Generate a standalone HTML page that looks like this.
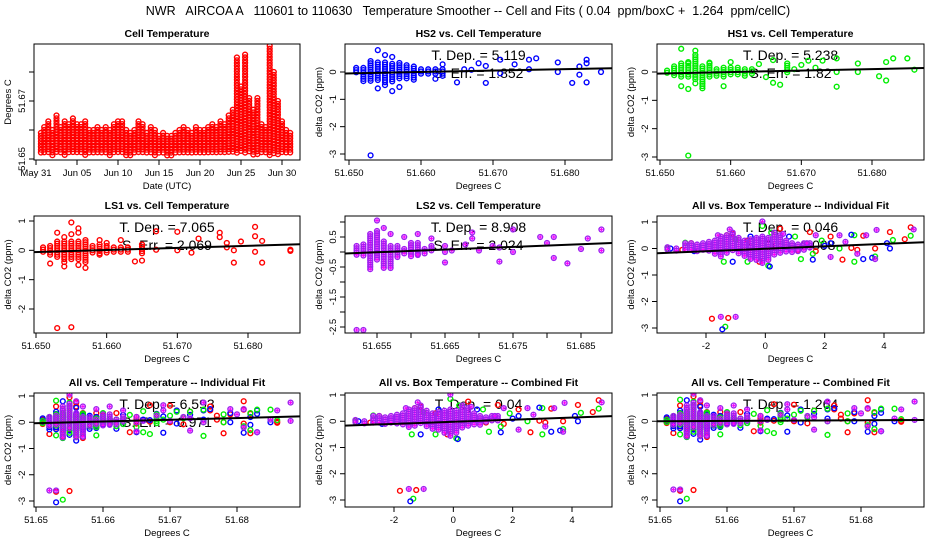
<!DOCTYPE html>
<html><head><meta charset="utf-8"><style>
html,body{margin:0;padding:0;background:#fff;}
svg{display:block;font-family:"Liberation Sans",Arial,sans-serif;}
</style></head><body>
<svg id="fig" width="936" height="540" viewBox="0 0 936 540" xmlns="http://www.w3.org/2000/svg">
<rect x="0" y="0" width="936" height="540" fill="#fff"/>
<text x="468" y="15" font-size="12.5" text-anchor="middle" xml:space="preserve">NWR   AIRCOA A   110601 to 110630   Temperature Smoother -- Cell and Fits ( 0.04  ppm/boxC +  1.264  ppm/cellC)</text>
</svg>
<script>
// ---------- data ----------
const tsDays=[0.6,1.0,1.5,2.0,2.5,3.0,3.5,4.0,4.5,5.0,5.5,6.0,6.5,7.0,7.5,8.0,8.5,9.0,9.5,10.0,10.5,11.0,11.5,12.0,12.5,13.0,13.5,14.0,14.5,15.0,15.5,16.0,16.5,17.0,17.5,18.0,18.5,19.0,19.5,20.0,20.5,21.0,21.5,22.0,22.5,23.0,23.5,24.0,24.5,25.0,25.5,26.0,26.5,27.0,27.5,28.0,28.5,29.0,29.5,30.0,30.5,31.0];
const tsHigh=[51.659,51.661,51.663,51.660,51.665,51.661,51.663,51.662,51.664,51.662,51.662,51.663,51.660,51.660,51.661,51.660,51.661,51.660,51.662,51.663,51.663,51.660,51.659,51.660,51.663,51.662,51.659,51.661,51.660,51.658,51.659,51.658,51.658,51.659,51.660,51.661,51.660,51.659,51.661,51.660,51.660,51.661,51.662,51.661,51.663,51.662,51.665,51.667,51.685,51.675,51.686,51.671,51.667,51.671,51.662,51.661,51.689,51.680,51.670,51.663,51.660,51.659];
const tsLow=[51.652,51.652,51.652,51.651,51.652,51.652,51.651,51.652,51.652,51.652,51.652,51.651,51.652,51.652,51.652,51.652,51.652,51.651,51.652,51.652,51.652,51.651,51.651,51.652,51.652,51.652,51.652,51.652,51.651,51.652,51.652,51.651,51.651,51.652,51.652,51.652,51.652,51.652,51.652,51.652,51.652,51.652,51.652,51.652,51.652,51.652,51.652,51.652,51.652,51.652,51.652,51.652,51.651,51.651,51.652,51.652,51.651,51.652,51.651,51.652,51.652,51.652];

const hs2ColX=[51.651,51.652,51.653,51.654,51.655,51.656,51.657,51.658,51.659,51.660,51.661,51.662,51.663];
const hs2ColMin=[-0.05,-0.35,-0.35,-0.35,-0.4,-0.35,-0.3,-0.3,-0.3,-0.1,-0.1,-0.1,-0.15];
const hs2ColMax=[0.15,0.15,0.4,0.35,0.35,0.3,0.25,0.25,0.2,0.1,0.1,0.1,0.1];
const hs2PtX=[51.653,51.654,51.654,51.655,51.655,51.656,51.656,51.657,51.657,51.662,51.663,51.665,51.666,51.667,51.668,51.669,51.669,51.671,51.671,51.673,51.675,51.675,51.676,51.679,51.679,51.681,51.682,51.682,51.683,51.683,51.683,51.685];
const hs2PtY=[-3.05,0.8,-0.6,0.62,-0.48,0.55,-0.7,-0.55,0.33,-0.25,0.28,-0.38,0.1,0.08,0.32,0.22,-0.4,0.45,-0.05,0.28,0.45,0.1,0.5,0.35,0,-0.4,0.2,-0.1,0.45,0.32,-0.38,0];
const hs1ColX=[51.651,51.652,51.653,51.654,51.655,51.656,51.657,51.658,51.659,51.660,51.661,51.662,51.663,51.668];
const hs1ColMin=[-0.05,-0.15,-0.2,-0.2,-0.3,-0.6,-0.2,-0.2,-0.2,-0.1,-0.1,-0.2,-0.1,-0.05];
const hs1ColMax=[0.05,0.2,0.3,0.3,0.6,0.2,0.3,0.1,0.15,0.15,0.15,0.1,0.1,0.3];
const hs1PtX=[51.653,51.653,51.654,51.654,51.655,51.655,51.654,51.657,51.659,51.660,51.664,51.665,51.666,51.666,51.667,51.669,51.670,51.671,51.672,51.673,51.675,51.675,51.675,51.678,51.678,51.681,51.682,51.682,51.683,51.685,51.686];
const hs1PtY=[0.82,-0.5,-0.6,0.35,0.75,-0.4,-2.95,0.33,-0.5,0.35,0.28,-0.18,0.42,-0.38,-0.45,0.1,0.25,0.4,0.15,0.4,0.48,0,-0.52,0.3,0,-0.15,0.35,-0.3,0.48,0.48,0.08];
const ls1ColX=[51.651,51.652,51.653,51.654,51.655,51.656,51.657,51.658,51.659,51.660,51.661,51.662,51.663,51.665];
const ls1ColMin=[-0.1,-0.2,-0.25,-0.3,-0.35,-0.3,-0.4,-0.1,-0.15,-0.1,-0.1,-0.05,-0.05,-0.1];
const ls1ColMax=[0.1,0.15,0.3,0.3,0.3,0.3,0.35,0.15,0.2,0.15,0.1,0.1,0.1,0.2];
const ls1PtX=[51.653,51.655,51.653,51.652,51.654,51.654,51.654,51.655,51.655,51.656,51.656,51.656,51.657,51.659,51.659,51.660,51.662,51.664,51.665,51.667,51.667,51.670,51.670,51.672,51.673,51.676,51.676,51.677,51.677,51.678,51.678,51.679,51.681,51.681,51.681,51.682,51.682,51.686,51.686];
const ls1PtY=[-2.65,-2.62,0.6,-0.45,-0.55,-0.4,0.45,0.95,0.55,0.75,0.6,-0.5,-0.6,0.35,-0.15,0.25,0.35,-0.38,-0.35,0.65,0.02,0.63,0,-0.08,0.4,0.6,0.45,0.25,0.1,0,-0.42,0.3,0.8,0.48,-0.05,0.32,-0.42,0.02,-0.02];
const ls2ColX=[51.652,51.653,51.654,51.655,51.656,51.657,51.658,51.659,51.660,51.661,51.662,51.663];
const ls2ColMin=[-0.15,-0.15,-0.6,-0.3,-0.6,-0.6,-0.2,-0.1,-0.2,-0.1,-0.1,0];
const ls2ColMax=[0.2,0.25,0.6,0.7,0.35,0.2,0.2,0.1,0.3,0.3,0.1,0.2];
const ls2PtX=[51.652,51.653,51.655,51.656,51.657,51.659,51.661,51.661,51.663,51.665,51.665,51.665,51.666,51.668,51.669,51.669,51.670,51.672,51.673,51.673,51.675,51.675,51.679,51.680,51.681,51.681,51.683,51.685,51.686,51.688,51.688];
const ls2PtY=[-2.6,-2.6,1.05,0.8,0.6,0.5,0.6,-0.1,0.45,0.2,0,-0.35,0.05,0.25,0.65,0.45,0.05,0.2,-0.32,0.15,0.75,0,0.5,0.3,0.5,-0.2,-0.38,0.1,0.45,0.75,0.05];

const boxColX=[-3.3,-3.0,-2.7,-2.5,-2.3,-2.1,-1.9,-1.7,-1.5,-1.3,-1.1,-0.9,-0.7,-0.5,-0.3,-0.1,0.1,0.3,0.5,0.7,0.9,1.1,1.3,1.5];
const boxColMin=[-0.05,-0.1,-0.1,-0.1,-0.15,-0.1,-0.15,-0.2,-0.3,-0.2,-0.1,-0.2,-0.3,-0.4,-0.5,-0.6,-0.5,-0.3,-0.2,-0.15,-0.15,-0.1,-0.05,0];
const boxColMax=[0.05,0.0,0.2,0.2,0.15,0.2,0.25,0.3,0.45,0.5,0.6,0.4,0.3,0.35,0.4,0.45,0.4,0.6,0.5,0.3,0.2,0.15,0.2,0.2];
const boxRedX=[-1.8,-1.25,-2.5,-2.8,-1.3,-1.1,-0.6,-0.2,0.5,1.5,1.7,2.2,2.6,2.9,3.1,3.3,3.7,4.2,4.7,4.9,1.1];
const boxRedY=[-2.65,-2.62,0.2,-0.05,0.5,0.55,0.3,-0.5,0.75,0.62,-0.1,0.45,-0.42,0.02,-0.05,0.48,0,0.62,0.35,0.8,-0.05];
const boxGreenX=[-1.35,-2.7,-3.3,-1.4,-0.6,-0.1,0.1,0.2,1.0,1.2,1.6,1.9,2.5,3.0,3.0,3.7,4.3,4.9,-1.0];
const boxGreenY=[-2.95,0.22,0.02,-0.5,-0.5,0.85,-0.65,0.6,0.45,-0.4,-0.2,0.3,0,0.5,-0.5,-0.3,0.32,0.48,0.35];
const boxBlueX=[-1.45,-3.2,-1.1,-0.5,0.15,0.8,1.6,2.2,2.9,3.3,3.6,4.1,4.2,2.0,-2.4];
const boxBlueY=[-3.05,0,-0.5,0.45,-0.68,0.45,-0.42,0.2,0.52,-0.4,-0.35,0.2,0,0.1,-0.1];
const boxPurpleX=[-1.5,-1.0,-0.1,-1.2,-1.6,0.6,1.7,2.2,2.5,3.1,3.4,3.75,3.7,5.0,2.7,1.4];
const boxPurpleY=[-2.58,-2.58,1.02,0.72,0.5,0.55,0.5,-0.32,0.5,-0.2,0.5,0.7,-0.4,0.72,0.25,0.2];

const fitSlopes=[5.119,5.238,7.065,8.908,0.046,6.593,0.04,1.264];
const fitZeros=[51.6598,51.6605,51.6583,51.6559,0.2,51.6557,0.5,51.651];

const tsXTicks=[0,5,10,15,20,25,30];
const tsXLabels=["May 31","Jun 05","Jun 10","Jun 15","Jun 20","Jun 25","Jun 30"];
const tsYTicks=[51.65,51.66,51.67,51.68];
const tsYLabels=["51.65","","51.67",""];
const cellXTicks3=[51.65,51.66,51.67,51.68];
const cellXLabels3=["51.650","51.660","51.670","51.680"];
const cellXLabels2=["51.65","51.66","51.67","51.68"];
const ls2XTicks=[51.655,51.660,51.665,51.670,51.675,51.680,51.685];
const ls2XLabels=["51.655","","51.665","","51.675","","51.685"];
const boxXTicks=[-2,0,2,4];
const boxXLabels=["-2","0","2","4"];
const dYTicks=[1,0,-1,-2,-3];
const dYLabels=["1","0","-1","-2","-3"];
const hsYTicks=[0,-1,-2,-3];
const hsYLabels=["0","-1","-2","-3"];
const ls1YTicks=[1,0,-1,-2];
const ls1YLabels=["1","0","-1","-2"];
const ls2YTicks=[1,0.5,0,-0.5,-1,-1.5,-2,-2.5];
const ls2YLabels=["","0.5","","-0.5","","-1.5","","-2.5"];

// ---------- drawing ----------
const NS="http://www.w3.org/2000/svg";
const svg=document.getElementById('fig');
const COL=[[34,300],[345,612],[657,924]];
const ROW=[[44,160],[216,333],[393,507]];
const C={red:"#ff0000",green:"#00ee00",blue:"#0000ff",purple:"#a020f0"};

function lin(v1,p1,v2,p2){return v=>p1+(v-v1)*(p2-p1)/(v2-v1);}
function inv(v1,p1,v2,p2){return p=>v1+(p-p1)*(v2-v1)/(p2-p1);}

function el(tag,attrs,parent,name){
  const e=document.createElementNS(NS,tag);
  for(const k in attrs)e.setAttribute(k,attrs[k]);
  
  
  (parent||svg).appendChild(e);return e;
}

let clipN=0;
function panel(o){
  const [L,R]=COL[o.col],[T,B]=ROW[o.row];
  const g=el('g',{},svg,o.name);
  const sx=lin(o.xc[0],o.xc[1],o.xc[2],o.xc[3]);
  const sy=lin(o.yc[0],o.yc[1],o.yc[2],o.yc[3]);
  const ix=inv(o.xc[0],o.xc[1],o.xc[2],o.xc[3]);
  el('text',{x:(L+R)/2,y:T-7,'font-size':10.5,'font-weight':'bold','text-anchor':'middle'},g,'panel-title').textContent=o.title;
  const xa=el('g',{},g,'x-axis');
  const xt=o.xTicks.map(sx);
  el('line',{x1:Math.min(...xt),x2:Math.max(...xt),y1:B,y2:B,stroke:'#000'},xa,'x-axis-line');
  o.xTicks.forEach((v,i)=>{
    const p=sx(v);
    el('line',{x1:p,x2:p,y1:B,y2:B+5,stroke:'#000'},xa,'x-tick');
    if(o.xLabels[i]){const t=el('text',{x:p,y:B+16,'font-size':9.5,'text-anchor':'middle'},xa,'x-tick-label');t.textContent=o.xLabels[i];}
  });
  el('text',{x:(L+R)/2,y:B+29,'font-size':9.5,'text-anchor':'middle'},xa,'x-axis-title').textContent=o.xTitle;
  const ya=el('g',{},g,'y-axis');
  const yt=o.yTicks.map(sy);
  el('line',{x1:L,x2:L,y1:Math.min(...yt),y2:Math.max(...yt),stroke:'#000'},ya,'y-axis-line');
  o.yTicks.forEach((v,i)=>{
    const p=sy(v);
    el('line',{x1:L-5,x2:L,y1:p,y2:p,stroke:'#000'},ya,'y-tick');
    if(o.yLabels[i]){const t=el('text',{x:L-9,y:p,'font-size':9.5,'text-anchor':'middle',transform:`rotate(-90 ${L-9} ${p})`},ya,'y-tick-label');t.textContent=o.yLabels[i];}
  });
  const yc=(T+B)/2;
  el('text',{x:L-23,y:yc,'font-size':9.5,'text-anchor':'middle',transform:`rotate(-90 ${L-23} ${yc})`},ya,'y-axis-title').textContent=o.yTitle;
  const id='c'+(clipN++);
  const cp=el('clipPath',{id:id},g,'plot-clip');
  el('rect',{x:L,y:T,width:R-L,height:B-T},cp,'plot-clip-rect');
  const pg=el('g',{'clip-path':`url(#${id})`},g,'plot-area');
  if(o.ann){o.ann.forEach((s,i)=>{
    const t=el('text',{x:(L+R)/2,y:T+16+i*18,'font-size':14,'text-anchor':'middle'},pg,i?'s-err-label':'t-dep-label');
    t.setAttribute('xml:space','preserve');t.textContent=s;});}
  return {g,pg,sx,sy,ix,L,R,T,B};
}
function marker(pg,x,y,color,name){
  el('circle',{cx:x,cy:y,r:2.4,fill:'none',stroke:C[color],'stroke-width':1.4},pg,name);
  if(color==='purple'){
    el('path',{d:`M${x-1.5} ${y}h3M${x} ${y-1.5}v3`,stroke:'#ff00ff','stroke-width':1.3},pg,name+'-cross');
  }
}
function cols(P,xs,mins,maxs,color,name,step){
  const st=step||2.2;
  xs.forEach((x,i)=>{
    const px=P.sx(x),a=P.sy(maxs[i]),b=P.sy(mins[i]);
    for(let y=a;y<=b+0.01;y+=st)marker(P.pg,px,y,color,name);
  });
}
function pts(P,xs,ys,color,name){xs.forEach((x,i)=>marker(P.pg,P.sx(x),P.sy(ys[i]),color,name));}
function fit(P,k){
  const x0=P.ix(P.L),x1=P.ix(P.R);
  const f=x=>fitSlopes[k]*(x-fitZeros[k]);
  el('line',{x1:P.L,x2:P.R,y1:P.sy(f(x0)),y2:P.sy(f(x1)),stroke:'#000','stroke-width':2},P.pg,'fit-line');
}
function frame(P){el('rect',{x:P.L,y:P.T,width:P.R-P.L,height:P.B-P.T,fill:'none',stroke:'#000'},P.g,'plot-frame');}
const dY="delta CO2 (ppm)",DC="Degrees C";
function cellAll(P){
  cols(P,ls1ColX,ls1ColMin,ls1ColMax,'red','ls1-point');pts(P,ls1PtX,ls1PtY,'red','ls1-point');
  cols(P,hs2ColX,hs2ColMin,hs2ColMax,'blue','hs2-point');pts(P,hs2PtX,hs2PtY,'blue','hs2-point');
  cols(P,hs1ColX,hs1ColMin,hs1ColMax,'green','hs1-point');pts(P,hs1PtX,hs1PtY,'green','hs1-point');
  cols(P,ls2ColX,ls2ColMin,ls2ColMax,'purple','ls2-point');pts(P,ls2PtX,ls2PtY,'purple','ls2-point');
}
function boxAll(P){
  pts(P,boxRedX,boxRedY,'red','box-red-point');
  pts(P,boxGreenX,boxGreenY,'green','box-green-point');
  pts(P,boxBlueX,boxBlueY,'blue','box-blue-point');
  cols(P,boxColX,boxColMin,boxColMax,'purple','box-dense-point');
  pts(P,boxPurpleX,boxPurpleY,'purple','box-purple-point');
}

let P=panel({name:'cell-temperature-panel',col:0,row:0,title:'Cell Temperature',xc:[0,36,30,282],yc:[51.65,159,51.67,101],
  xTicks:tsXTicks,xLabels:tsXLabels,yTicks:tsYTicks,yLabels:tsYLabels,xTitle:'Date (UTC)',yTitle:'Degrees C'});
cols(P,tsDays,tsLow,tsHigh,'red','temperature-point',2.8);frame(P);

P=panel({name:'hs2-panel',col:1,row:0,title:'HS2 vs. Cell Temperature',xc:[51.65,349,51.68,565],yc:[0,72,-3,154],
  xTicks:cellXTicks3,xLabels:cellXLabels3,yTicks:hsYTicks,yLabels:hsYLabels,xTitle:DC,yTitle:dY,ann:['T. Dep. =  5.119','S. Err. =  1.852']});
cols(P,hs2ColX,hs2ColMin,hs2ColMax,'blue','hs2-point');pts(P,hs2PtX,hs2PtY,'blue','hs2-point');fit(P,0);frame(P);

P=panel({name:'hs1-panel',col:2,row:0,title:'HS1 vs. Cell Temperature',xc:[51.65,660,51.68,872],yc:[0,72,-3,157],
  xTicks:cellXTicks3,xLabels:cellXLabels3,yTicks:hsYTicks,yLabels:hsYLabels,xTitle:DC,yTitle:dY,ann:['T. Dep. =  5.238','S. Err. =  1.82']});
cols(P,hs1ColX,hs1ColMin,hs1ColMax,'green','hs1-point');pts(P,hs1PtX,hs1PtY,'green','hs1-point');fit(P,1);frame(P);

P=panel({name:'ls1-panel',col:0,row:1,title:'LS1 vs. Cell Temperature',xc:[51.65,36,51.68,248],yc:[1,221,-2,309],
  xTicks:cellXTicks3,xLabels:cellXLabels3,yTicks:ls1YTicks,yLabels:ls1YLabels,xTitle:DC,yTitle:dY,ann:['T. Dep. =  7.065','S. Err. =  2.069']});
cols(P,ls1ColX,ls1ColMin,ls1ColMax,'red','ls1-point');pts(P,ls1PtX,ls1PtY,'red','ls1-point');fit(P,2);frame(P);

P=panel({name:'ls2-panel',col:1,row:1,title:'LS2 vs. Cell Temperature',xc:[51.655,377,51.685,581],yc:[0.5,237,-2.5,327],
  xTicks:ls2XTicks,xLabels:ls2XLabels,yTicks:ls2YTicks,yLabels:ls2YLabels,xTitle:DC,yTitle:dY,ann:['T. Dep. =  8.908','S. Err. =  2.024']});
cols(P,ls2ColX,ls2ColMin,ls2ColMax,'purple','ls2-point');pts(P,ls2PtX,ls2PtY,'purple','ls2-point');fit(P,3);frame(P);

P=panel({name:'all-box-individual-panel',col:2,row:1,title:'All vs. Box Temperature -- Individual Fit',xc:[-2,706,4,884],yc:[1,222,-3,328],
  xTicks:boxXTicks,xLabels:boxXLabels,yTicks:dYTicks,yLabels:dYLabels,xTitle:DC,yTitle:dY,ann:['T. Dep. =  0.046','S. Err. =  0.008']});
boxAll(P);fit(P,4);frame(P);

P=panel({name:'all-cell-individual-panel',col:0,row:2,title:'All vs. Cell Temperature -- Individual Fit',xc:[51.65,36,51.68,237],yc:[1,396,-3,501],
  xTicks:cellXTicks3,xLabels:cellXLabels2,yTicks:dYTicks,yLabels:dYLabels,xTitle:DC,yTitle:dY,ann:['T. Dep. =  6.593','S. Err. =  0.971']});
cellAll(P);fit(P,5);frame(P);

P=panel({name:'all-box-combined-panel',col:1,row:2,title:'All vs. Box Temperature -- Combined Fit',xc:[-2,394,4,572],yc:[1,395,-3,500],
  xTicks:boxXTicks,xLabels:boxXLabels,yTicks:dYTicks,yLabels:dYLabels,xTitle:DC,yTitle:dY,ann:['T. Dep. =  0.04']});
boxAll(P);fit(P,6);frame(P);

P=panel({name:'all-cell-combined-panel',col:2,row:2,title:'All vs. Cell Temperature -- Combined Fit',xc:[51.65,660,51.68,861],yc:[1,395,-3,500],
  xTicks:cellXTicks3,xLabels:cellXLabels2,yTicks:dYTicks,yLabels:dYLabels,xTitle:DC,yTitle:dY,ann:['T. Dep. =  1.264']});
cellAll(P);fit(P,7);frame(P);
</script>
</body></html>
